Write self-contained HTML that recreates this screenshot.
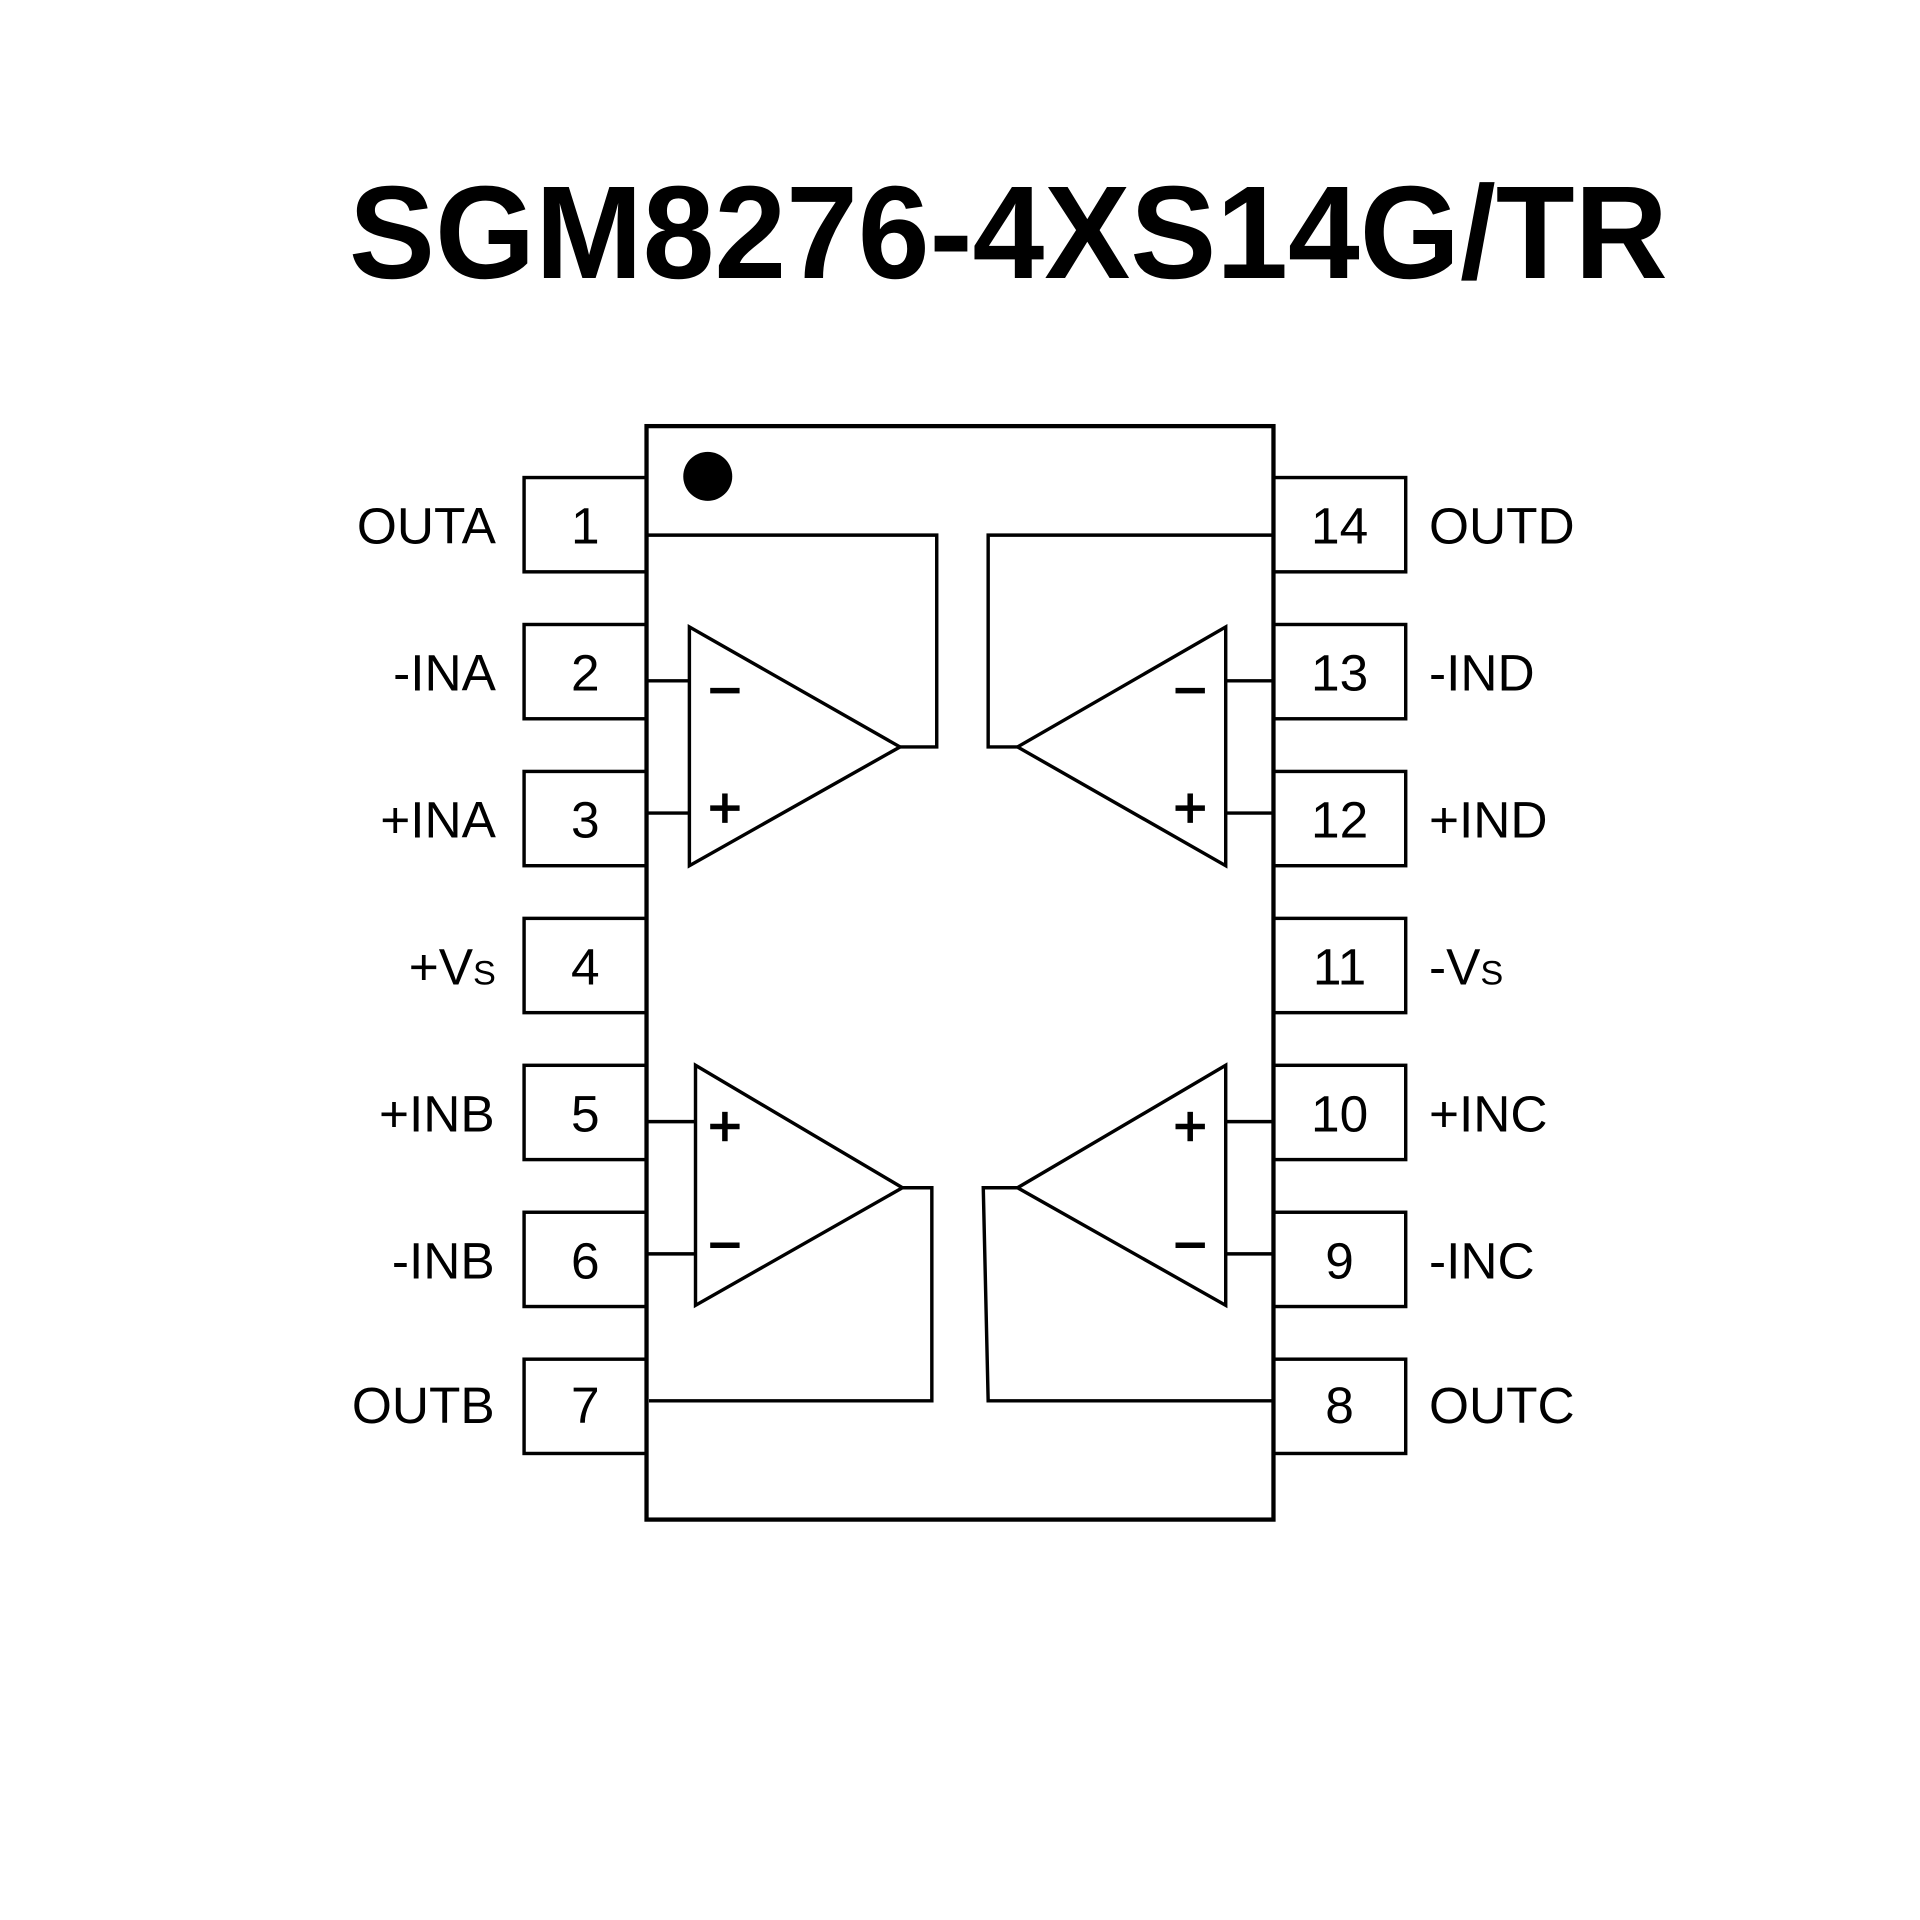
<!DOCTYPE html>
<html><head><meta charset="utf-8"><style>
html,body{margin:0;padding:0;background:#fff;width:1920px;height:1920px;overflow:hidden}
svg{display:block}
text{font-family:"Liberation Sans",Arial,sans-serif;fill:#000}
</style></head><body>
<svg width="1920" height="1920" viewBox="0 0 1568 1568" xmlns="http://www.w3.org/2000/svg">
<text x="285" y="227" font-size="108" font-weight="bold" textLength="1077" lengthAdjust="spacingAndGlyphs">SGM8276-4XS14G/TR</text>
<g fill="none" stroke="#000" stroke-width="2.8">
<rect x="528" y="348" width="512" height="893" stroke-width="3.5"/>
<rect x="428" y="390" width="100" height="77"/>
<rect x="428" y="510" width="100" height="77"/>
<rect x="428" y="630" width="100" height="77"/>
<rect x="428" y="750" width="100" height="77"/>
<rect x="428" y="870" width="100" height="77"/>
<rect x="428" y="990" width="100" height="77"/>
<rect x="428" y="1110" width="100" height="77"/>
<rect x="1040" y="390" width="108" height="77"/>
<rect x="1040" y="510" width="108" height="77"/>
<rect x="1040" y="630" width="108" height="77"/>
<rect x="1040" y="750" width="108" height="77"/>
<rect x="1040" y="870" width="108" height="77"/>
<rect x="1040" y="990" width="108" height="77"/>
<rect x="1040" y="1110" width="108" height="77"/>
<polygon points="563,512 563,707 735,610"/>
<polyline points="735,610 765,610 765,437 528,437"/>
<line x1="528" y1="556" x2="563" y2="556"/><line x1="528" y1="664" x2="563" y2="664"/>
<polygon points="1001,512 1001,707 831,610"/>
<polyline points="831,610 807,610 807,437 1040,437"/>
<line x1="1001" y1="556" x2="1040" y2="556"/><line x1="1001" y1="664" x2="1040" y2="664"/>
<polygon points="568,870 568,1066 737,970"/>
<polyline points="737,970 761,970 761,1144 530,1144"/>
<line x1="528" y1="916" x2="568" y2="916"/><line x1="528" y1="1024" x2="568" y2="1024"/>
<polygon points="1001,870 1001,1066 831,970"/>
<polyline points="831,970 803,970 807,1144 1040,1144"/>
<line x1="1001" y1="916" x2="1040" y2="916"/><line x1="1001" y1="1024" x2="1040" y2="1024"/>
</g>
<circle cx="578" cy="389" r="20" fill="#000"/>
<g stroke="#000" stroke-width="4.5">
<line x1="580" y1="564" x2="604" y2="564"/>
<line x1="580" y1="660" x2="604" y2="660"/><line x1="592" y1="648" x2="592" y2="672"/>
<line x1="580" y1="920" x2="604" y2="920"/><line x1="592" y1="908" x2="592" y2="932"/>
<line x1="580" y1="1017" x2="604" y2="1017"/>
<line x1="960" y1="564" x2="984" y2="564"/>
<line x1="960" y1="660" x2="984" y2="660"/><line x1="972" y1="648" x2="972" y2="672"/>
<line x1="960" y1="920" x2="984" y2="920"/><line x1="972" y1="908" x2="972" y2="932"/>
<line x1="960" y1="1017" x2="984" y2="1017"/>
</g>
<g font-size="42" text-anchor="middle">
<text x="478" y="444">1</text><text x="478" y="564">2</text><text x="478" y="684">3</text>
<text x="478" y="804">4</text><text x="478" y="924">5</text><text x="478" y="1044">6</text><text x="478" y="1162">7</text>
<text x="1094" y="444">14</text><text x="1094" y="564">13</text><text x="1094" y="684">12</text>
<text x="1094" y="804">11</text><text x="1094" y="924">10</text><text x="1094" y="1044">9</text><text x="1094" y="1162">8</text>
</g>
<g font-size="42" text-anchor="end">
<text x="405" y="444">OUTA</text><text x="405" y="564">-INA</text><text x="405" y="684">+INA</text>
<text x="405" y="804">+V<tspan font-size="28">S</tspan></text>
<text x="404" y="924">+INB</text><text x="404" y="1044">-INB</text><text x="404" y="1162">OUTB</text>
</g>
<g font-size="42">
<text x="1167" y="444">OUTD</text><text x="1167" y="564">-IND</text><text x="1167" y="684">+IND</text>
<text x="1167" y="804">-V<tspan font-size="28">S</tspan></text>
<text x="1167" y="924">+INC</text><text x="1167" y="1044">-INC</text><text x="1167" y="1162">OUTC</text>
</g>
</svg>
</body></html>
